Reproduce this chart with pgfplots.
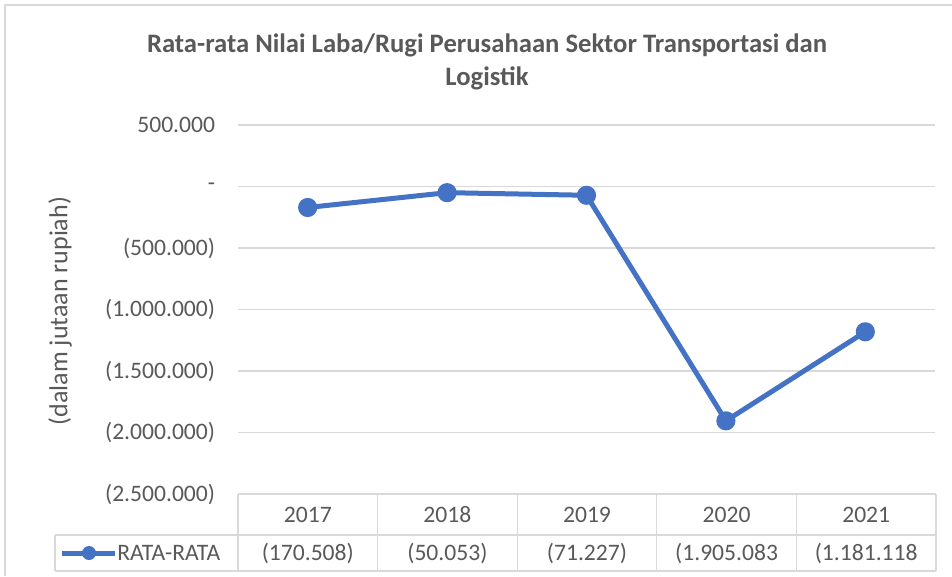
\documentclass[border=0pt]{standalone}
\usepackage{fontspec}
\setmainfont{Carlito}
\usepackage{pgfplots}
\pgfplotsset{compat=1.18}
\definecolor{txt}{HTML}{595959}
\definecolor{gridc}{HTML}{D9D9D9}
\definecolor{ser}{HTML}{4472C4}
\begin{document}
\begin{tikzpicture}
\begin{scope}[x=0.75pt,y=-0.75pt]
\useasboundingbox (0,0) rectangle (952,576);
\draw[gridc, line width=1.5pt] (5,576) -- (5,5) -- (952,5);
\node[txt, font=\fontsize{20}{24}\selectfont\bfseries] at (487,45) {Rata-rata Nilai Laba/Rugi Perusahaan Sektor Transportasi dan};
\node[txt, font=\fontsize{20}{24}\selectfont\bfseries] at (487,78) {Logistik};
\node[txt, rotate=90, font=\fontsize{19.5}{23}\selectfont] at (60,311) {(dalam jutaan rupiah)};
\end{scope}
\begin{axis}[at={(178.5pt,-370.5pt)}, anchor=south west, scale only axis,
  width=522.75pt, height=276.75pt,
  xmin=-0.5, xmax=4.5, ymin=-2500000, ymax=500000,
  scaled y ticks=false,
  ytick={-2500000,-2000000,-1500000,-1000000,-500000,0,500000},
  yticklabels={(2.500.000),(2.000.000),(1.500.000),(1.000.000),(500.000),{-\hspace{0.9em}},{500.000\hspace{0.3em}}},
  xtick=\empty, axis line style={draw=none},
  ymajorgrids, grid style={gridc, line width=1pt},
  major tick length=0pt,
  yticklabel style={txt, font=\fontsize{17.7}{20}\selectfont, anchor=east, inner sep=0pt, xshift=-17pt},
  clip=false]
\addplot[ser, line width=3.75pt, line join=round, mark=*, mark size=5.3pt, mark options={solid, fill=ser}]
  coordinates {(0,-170508) (1,-50053) (2,-71227) (3,-1905083) (4,-1181118)};
\end{axis}
\begin{scope}[x=0.75pt,y=-0.75pt]
\draw[gridc, line width=1pt] (238,494) -- (936,494);
\draw[gridc, line width=1pt] (55,535) -- (936,535);
\draw[gridc, line width=1pt] (55,571) -- (936,571);
\draw[gridc, line width=1pt] (55,535) -- (55,571);
\foreach \xx in {238,377.6,517.2,656.8,796.4,936} {\draw[gridc, line width=1pt] (\xx,494) -- (\xx,571);}
\foreach \yr/\val [count=\i from 0] in {2017/(170.508),2018/(50.053),2019/(71.227),2020/(1.905.083,2021/(1.181.118} {
  \node[txt, font=\fontsize{17.7}{20}\selectfont] at (307.8+139.6*\i,515) {\yr};
  \node[txt, font=\fontsize{17.7}{20}\selectfont] at (307.8+139.6*\i,553) {\val};
}
\draw[ser, line width=3.75pt] (62,553) -- (115,553);
\fill[ser] (89,553) circle (7);
\node[txt, font=\fontsize{17.7}{20}\selectfont, anchor=west, inner sep=0pt] at (117,553) {RATA-RATA};
\end{scope}
\end{tikzpicture}
\end{document}
